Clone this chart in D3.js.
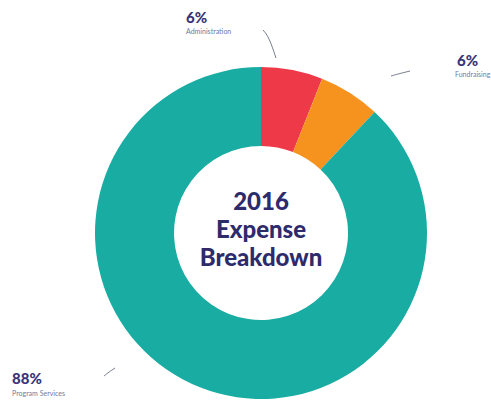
<!DOCTYPE html>
<html>
<head>
<meta charset="utf-8">
<script src="https://cdn.jsdelivr.net/npm/d3@7"></script>
<style>
  body { margin: 0; background: #fff; }
  svg { display: block; font-family: Lato, 'Open Sans', sans-serif; }
</style>
</head>
<body>
<div class="chart"></div>
<script>
const categories = ['Administration', 'Fundraising', 'Program Services'];
const values = [6, 6, 88];
const pctLabels = ['6%', '6%', '88%'];
const titleLines = ['2016', 'Expense', 'Breakdown'];

const colors = ['#ee3a48', '#f6931f', '#19aca2'];

const width = 491, height = 400;
const cx = 261, cy = 233,
    outerR = 166, innerR = 87;

// where each label sits, and its leader line
const labelLayout = [
    { x: 186, y: 23, sub: 11, line: [[263, 30], [269, 37], [276, 58]] },
    { x: 457, y: 66, sub: 11, line: [[391, 76], [398, 74], [410, 71]] },
    { x: 12, y: 384, sub: 12, line: [[104, 376], [109, 372], [115, 368]] }
];

const svg = d3.select('.chart')
    .append('svg')
    .attr('width', width)
    .attr('height', height);

const g = svg.append('g')
    .attr('transform', `translate(${cx},${cy})`);

const pie = d3.pie()
    .sort(null)
    .value(d => d);

const arc = d3.arc()
    .innerRadius(innerR)
    .outerRadius(outerR);

g.selectAll('path.slice')
    .data(pie(values))
    .join('path')
    .attr('class', 'slice')
    .attr('d', arc)
    .attr('fill', (d, i) => colors[i]);

// center title
g.selectAll('text.title')
    .data(titleLines)
    .join('text')
    .attr('class', 'title')
    .attr('text-anchor', 'middle')
    .attr('y', (d, i) => -23 + i * 28)
    .attr('font-size', 24)
    .attr('font-weight', 900)
    .attr('fill', '#2e2b6c')
    .text(d => d);

// labels
const labels = svg.selectAll('g.label')
    .data(categories)
    .join('g')
    .attr('class', 'label');

labels.append('text')
    .attr('x', (d, i) => labelLayout[i].x)
    .attr('y', (d, i) => labelLayout[i].y)
    .attr('font-size', 15)
    .attr('font-weight', 900)
    .attr('fill', '#3a3478')
    .text((d, i) => pctLabels[i]);

labels.append('text')
    .attr('x', (d, i) => labelLayout[i].x - (i === 1 ? 2 : 0))
    .attr('y', (d, i) => labelLayout[i].y + labelLayout[i].sub)
    .attr('font-size', 7)
    .attr('fill', '#6e7aa6')
    .text(d => d);

labels.append('path')
    .attr('d', (d, i) => d3.line().curve(d3.curveBasis)(labelLayout[i].line))
    .attr('fill', 'none')
    .attr('stroke', '#555a70')
    .attr('stroke-width', 0.8);
</script>
</body>
</html>
